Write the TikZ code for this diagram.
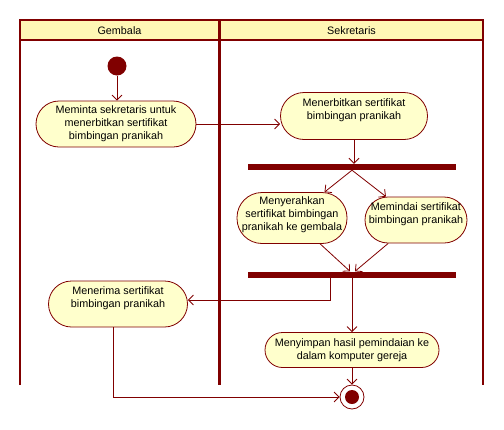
\documentclass[tikz,border=0pt]{standalone}
\usepackage{fontspec}
\setmainfont{Liberation Sans}
\usetikzlibrary{arrows.meta,calc}
\definecolor{dred}{RGB}{128,0,0}
\definecolor{nfill}{RGB}{255,255,204}
\definecolor{hfill}{RGB}{255,247,181}
\begin{document}
\begin{tikzpicture}[x=1pt,y=-1pt,
  act/.style={draw=dred, fill=nfill, align=center, font=\fontsize{10.8}{13}\selectfont, inner sep=0pt, line width=0.8pt},
  flow/.style={draw=dred, line width=0.8pt, -{Straight Barb[length=5pt,width=10pt]}},
  barnode/.style={fill=dred, draw=none, minimum width=208pt, minimum height=6pt, inner sep=0pt},
  lanehead/.style={font=\fontsize{10.8}{13}\selectfont, inner sep=0pt}]
\useasboundingbox (0,0) rectangle (504,429);
% swimlanes
\fill[hfill] (20,20) rectangle (483,40);
\draw[dred, line width=2pt] (20,385) -- (20,20) -- (483,20) -- (483,385);
\draw[dred, line width=2pt] (20,40) -- (483,40);
\draw[dred, line width=3pt] (219,20) -- (219,385);
\node[lanehead] (h1) at (119.5,31) {Gembala};
\node[lanehead] (h2) at (351.5,31) {Sekretaris};
% nodes
\node[circle, fill=dred, minimum size=19pt, inner sep=0pt] (s) at (117,66) {};
\node[act, minimum width=160pt, minimum height=46pt, rounded corners=23pt] (a1) at (116,124)
  {Meminta sekretaris untuk\\menerbitkan sertifikat\\bimbingan pranikah};
\node[act, minimum width=147pt, minimum height=47pt, rounded corners=23.5pt, text depth=13pt] (a2) at (354,116)
  {Menerbitkan sertifikat\\bimbingan pranikah};
\node[barnode] (f1) at (352,167) {};
\node[act, minimum width=110pt, minimum height=51pt, rounded corners=25pt, text depth=8pt] (a3) at (292,218)
  {Menyerahkan\\sertifikat bimbingan\\pranikah ke gembala};
\node[act, minimum width=102pt, minimum height=46pt, rounded corners=23pt, text depth=14pt] (a4) at (416,220)
  {Memindai sertifikat\\bimbingan pranikah};
\node[barnode] (f2) at (352,274.5) {};
\node[act, minimum width=139pt, minimum height=46pt, rounded corners=23pt, text depth=14pt] (a5) at (118,304)
  {Menerima sertifikat\\bimbingan pranikah};
\node[act, minimum width=174pt, minimum height=35pt, rounded corners=17.5pt] (a6) at (352,350)
  {Menyimpan hasil pemindaian ke\\dalam komputer gereja};
\node[circle, draw=dred, fill=white, line width=0.8pt, minimum size=24pt, inner sep=0pt] (e) at (352,397) {};
\node[circle, fill=dred, minimum size=14pt, inner sep=0pt] (ei) at (e.center) {};
% flows
\draw[flow] (s.south) -- (s.south |- a1.north);
\draw[flow] (a1.east) -- (a1.east -| a2.west);
\draw[flow] (a2.south) -- (a2.south |- f1.north);
\draw[flow] (f1.south) -- (a3);
\draw[flow] (f1.south) -- (a4);
\draw[flow] (a3) -- ($(f2.north)+(-2,0)$);
\draw[flow] (a4) -- ($(f2.north)+(3,0)$);
\draw[flow] ($(f2.south)+(-22,0)$) |- ($(a5.east)+(0,-4)$);
\draw[flow] (f2.south) -- (a6.north);
\draw[flow] (a6.south) -- (e.north);
\draw[flow] ($(a5.south)+(-5,0)$) |- (e.west);
\end{tikzpicture}
\end{document}
